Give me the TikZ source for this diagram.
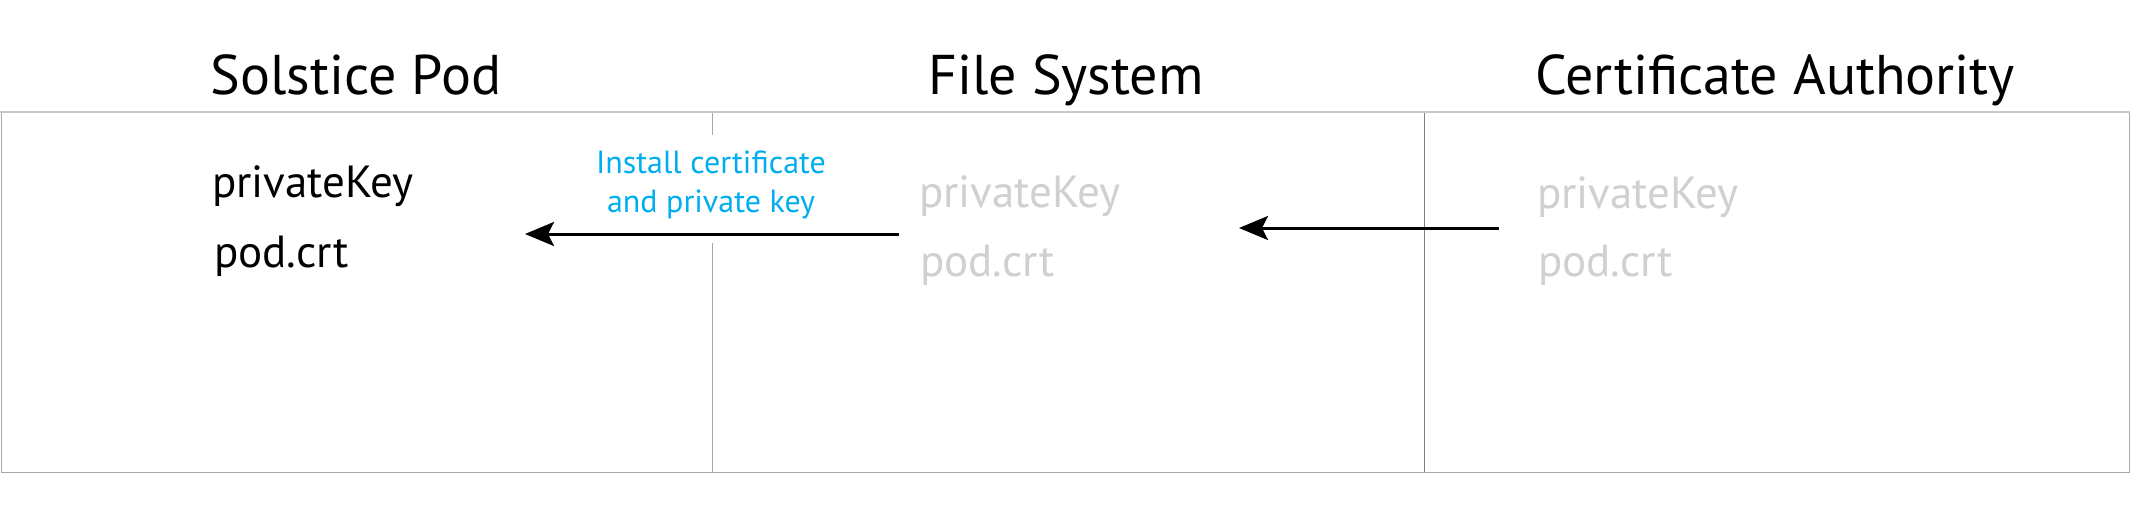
\documentclass[tikz,border=0pt]{standalone}
\usepackage{fontspec}
\setmainfont{PT Sans}
\usetikzlibrary{arrows.meta}
\definecolor{cablue}{HTML}{00AEEF}
\definecolor{ghost}{HTML}{D0D0D0}
\definecolor{frame}{HTML}{A8A8A8}
\definecolor{topline}{HTML}{C8C8C8}
\begin{document}
\begin{tikzpicture}[x=1pt,y=-1pt,
  title/.style={anchor=base,inner sep=0pt,font=\fontsize{56}{60}\selectfont},
  item/.style={anchor=base west,inner sep=0pt,font=\fontsize{45}{50}\selectfont},
  ghostitem/.style={item,text=ghost},
  lbl/.style={anchor=base,inner sep=0pt,text=cablue,font=\fontsize{32}{39}\selectfont},
  flow/.style={line width=3pt,-{Stealth[length=29pt,width=24pt,inset=6pt]}},
  div/.style={frame,line width=1pt}]
\useasboundingbox (0,0) rectangle (2131,520);
\fill[white] (0,0) rectangle (2131,520);
% frame
\draw[div] (1,112) rectangle (2129,472);
\draw[topline,line width=2pt] (0,112) -- (2130,112);
\draw[div] (712,113) -- (712,135);
\draw[div] (712,243) -- (712,472);
\draw[div,draw=gray] (1424,113) -- (1424,472);
% titles
\node[title] (t1) at (356,94) {Solstice Pod};
\node[title] (t2) at (1066,94) {File System};
\node[title] (t3) at (1775,94) {Certificate Authority};
% pod column
\node[item] (pk1) at (212,197) {privateKey};
\node[item] (pc1) at (214,267) {pod.crt};
% file system column
\node[ghostitem] (pk2) at (919,207) {privateKey};
\node[ghostitem] (pc2) at (920,276) {pod.crt};
% CA column
\node[ghostitem] (pk3) at (1537,208) {privateKey};
\node[ghostitem] (pc3) at (1538,276) {pod.crt};
% label
\node[lbl] (l1) at (711,173) {Install certificate};
\node[lbl] (l2) at (711,212) {and private key};
% arrows
\coordinate (a1s) at (899,234);
\coordinate (a1e) at (525,234);
\coordinate (a2s) at (1499,228);
\coordinate (a2e) at (1239,228);
\draw[flow] (a1s) -- (a1e);
\draw[flow] (a2s) -- (a2e);
\end{tikzpicture}
\end{document}
